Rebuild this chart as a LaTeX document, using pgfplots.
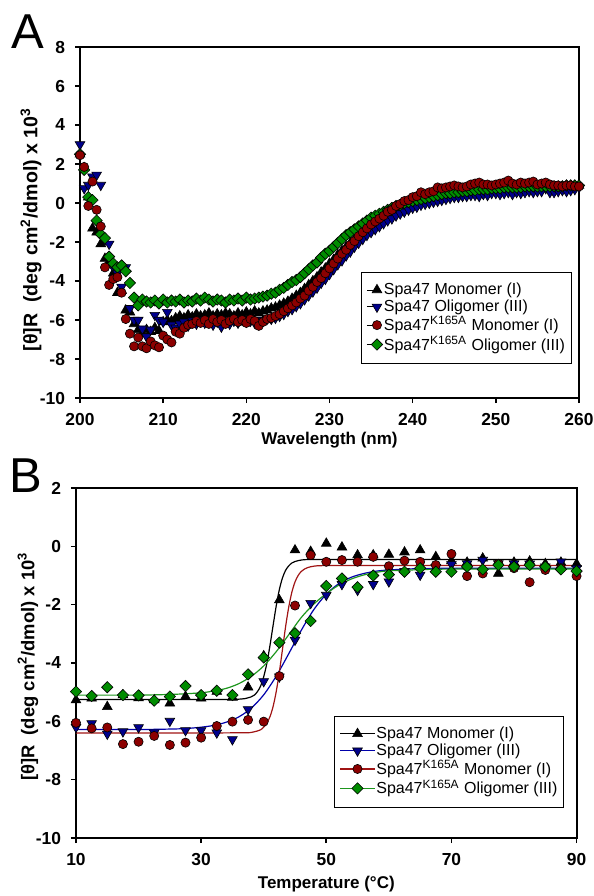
\documentclass[border=0pt]{standalone}
\usepackage{fontspec}
\setmainfont{Liberation Sans}
\usepackage{pgfplots}
\usepackage{pgfplotstable}
\pgfplotsset{compat=1.18}
\definecolor{mred}{RGB}{140,0,0}
\definecolor{mblue}{RGB}{0,0,140}
\definecolor{mgreen}{RGB}{0,140,0}
\definecolor{lred}{RGB}{160,20,20}
\definecolor{lblue}{RGB}{0,0,170}
\definecolor{lgreen}{RGB}{30,150,30}

\pgfplotstableread{
lam K B R G
200.0 2.50 3.00 2.45 2.50
200.5 1.80 0.75 1.85 1.70
201.0 0.30 0.92 -0.15 0.30
201.5 -1.30 1.35 1.10 0.15
202.0 -1.50 1.44 -0.35 -0.90
202.5 -2.10 0.92 -1.20 -1.60
203.0 -2.85 -1.90 -3.30 -1.80
203.5 -3.00 -2.10 -4.20 -2.75
204.0 -3.60 -3.30 -3.90 -3.10
204.5 -4.60 -3.60 -3.80 -3.30
205.0 -4.50 -4.30 -4.60 -3.20
205.5 -5.50 -3.30 -5.95 -3.50
206.0 -5.60 -5.40 -6.70 -4.10
206.5 -6.20 -6.00 -7.35 -4.85
207.0 -6.50 -6.00 -6.90 -5.25
207.5 -6.70 -6.45 -7.35 -4.95
208.0 -6.50 -6.85 -7.45 -5.05
208.5 -6.60 -6.50 -7.10 -5.10
209.0 -6.40 -5.75 -7.30 -5.00
209.5 -6.55 -6.00 -7.40 -5.15
210.0 -6.10 -6.10 -6.80 -4.95
210.5 -6.00 -5.60 -7.00 -5.10
211.0 -6.05 -6.25 -7.15 -5.00
211.5 -5.90 -6.40 -6.60 -5.05
212.0 -5.80 -6.20 -6.70 -4.95
212.5 -5.90 -6.10 -6.40 -5.10
213.0 -5.75 -6.30 -6.25 -5.00
213.5 -5.85 -6.05 -6.20 -5.05
214.0 -5.70 -6.20 -6.05 -4.90
214.5 -5.80 -6.00 -6.15 -5.00
215.0 -5.75 -6.15 -6.00 -4.85
215.5 -5.65 -6.05 -6.20 -4.95
216.0 -5.80 -6.25 -5.95 -5.05
216.5 -5.70 -6.10 -6.10 -4.95
217.0 -5.75 -6.35 -6.00 -5.00
217.5 -5.65 -6.10 -6.20 -5.10
218.0 -5.70 -6.20 -6.05 -4.95
218.5 -5.80 -6.05 -5.95 -5.00
219.0 -5.65 -6.15 -6.10 -4.90
219.5 -5.75 -6.00 -6.00 -5.00
220.0 -5.60 -6.10 -6.15 -4.85
220.5 -5.70 -6.05 -5.95 -4.95
221.0 -5.55 -6.15 -6.05 -4.90
221.5 -5.65 -6.00 -6.30 -4.85
222.0 -5.55 -6.05 -6.10 -4.80
222.5 -5.50 -5.95 -5.95 -4.75
223.0 -5.40 -5.95 -5.90 -4.65
223.5 -5.35 -5.90 -5.80 -4.60
224.0 -5.25 -5.80 -5.70 -4.45
224.5 -5.15 -5.70 -5.55 -4.35
225.0 -5.05 -5.55 -5.40 -4.20
225.5 -4.90 -5.45 -5.25 -4.05
226.0 -4.75 -5.30 -5.10 -3.95
226.5 -4.60 -5.15 -4.90 -3.80
227.0 -4.40 -4.95 -4.75 -3.60
227.5 -4.20 -4.75 -4.50 -3.40
228.0 -4.00 -4.55 -4.30 -3.20
228.5 -3.80 -4.35 -4.05 -3.05
229.0 -3.55 -4.10 -3.85 -2.80
229.5 -3.35 -3.90 -3.60 -2.60
230.0 -3.10 -3.65 -3.35 -2.45
230.5 -2.90 -3.40 -3.10 -2.25
231.0 -2.65 -3.15 -2.85 -2.05
231.5 -2.45 -2.95 -2.60 -1.85
232.0 -2.25 -2.70 -2.40 -1.65
232.5 -2.05 -2.50 -2.15 -1.50
233.0 -1.85 -2.25 -1.95 -1.35
233.5 -1.65 -2.05 -1.70 -1.20
234.0 -1.45 -1.85 -1.50 -1.05
234.5 -1.30 -1.65 -1.30 -0.90
235.0 -1.15 -1.50 -1.10 -0.75
235.5 -1.00 -1.35 -0.95 -0.65
236.0 -0.85 -1.20 -0.80 -0.55
236.5 -0.75 -1.05 -0.65 -0.45
237.0 -0.60 -0.90 -0.45 -0.35
237.5 -0.50 -0.80 -0.35 -0.25
238.0 -0.40 -0.65 -0.15 -0.15
238.5 -0.30 -0.55 -0.05 -0.10
239.0 -0.20 -0.45 0.10 0.00
239.5 -0.10 -0.35 0.15 0.05
240.0 0.00 -0.25 0.30 0.10
240.5 0.05 -0.20 0.35 0.15
241.0 0.15 -0.10 0.55 0.20
241.5 0.20 -0.05 0.45 0.25
242.0 0.25 0.00 0.55 0.30
242.5 0.30 0.05 0.60 0.35
243.0 0.35 0.10 0.80 0.40
243.5 0.40 0.15 0.75 0.45
244.0 0.45 0.20 0.80 0.50
244.5 0.45 0.25 0.85 0.50
245.0 0.50 0.30 0.90 0.55
245.5 0.55 0.30 0.85 0.55
246.0 0.55 0.35 0.80 0.60
246.5 0.60 0.35 0.85 0.60
247.0 0.60 0.40 0.95 0.65
247.5 0.65 0.40 1.00 0.65
248.0 0.65 0.35 1.05 0.70
248.5 0.65 0.45 0.95 0.70
249.0 0.70 0.40 0.95 0.70
249.5 0.70 0.50 0.90 0.75
250.0 0.70 0.50 0.95 0.75
250.5 0.75 0.45 1.00 0.75
251.0 0.75 0.50 1.05 0.80
251.5 0.75 0.55 1.15 0.80
252.0 0.80 0.45 1.00 0.80
252.5 0.75 0.55 0.95 0.80
253.0 0.80 0.50 1.05 0.80
253.5 0.80 0.55 1.00 0.85
254.0 0.80 0.60 1.05 0.85
254.5 0.85 0.55 1.10 0.85
255.0 0.80 0.60 0.95 0.85
255.5 0.85 0.60 1.00 0.85
256.0 0.85 0.75 1.05 0.85
256.5 0.85 0.55 0.95 0.85
257.0 0.85 0.55 0.90 0.85
257.5 0.85 0.60 0.90 0.85
258.0 0.85 0.65 0.85 0.85
258.5 0.90 0.60 0.90 0.90
259.0 0.90 0.65 0.90 0.90
259.5 0.90 0.70 0.85 0.90
260.0 0.90 0.80 0.85 0.90
}\cdtable

\pgfplotstableread{
T K B R G
10 -5.27 -6.20 -6.05 -4.98
12.5 -5.21 -6.07 -6.24 -5.13
15 -5.50 -6.43 -6.21 -4.83
17.5 -5.10 -6.35 -6.78 -5.10
20 -5.20 -6.21 -6.70 -5.11
22.5 -5.27 -6.39 -6.50 -5.29
25 -5.38 -5.99 -6.81 -5.15
27.5 -5.15 -6.31 -6.73 -4.79
30 -5.21 -6.31 -6.56 -5.10
32.5 -4.98 -6.39 -6.16 -4.95
35 -5.18 -6.62 -6.01 -5.10
37.5 -4.83 -5.59 -5.95 -4.39
40 -3.76 -4.63 -6.01 -3.81
42.5 -1.84 -4.47 -4.45 -3.30
45 -0.13 -3.21 -2.03 -2.98
47.5 -0.18 -1.95 -0.30 -2.56
50 0.10 -1.67 -0.53 -1.36
52.5 -0.03 -1.30 -0.47 -1.10
55 -0.30 -1.50 -0.53 -1.40
57.5 -0.30 -1.30 -0.36 -1.00
60 -0.28 -1.21 -0.68 -0.97
62.5 -0.20 -0.85 -0.49 -0.87
65 -0.13 -0.98 -0.53 -0.75
67.5 -0.36 -0.72 -0.64 -0.87
70 -0.50 -0.62 -0.26 -0.87
72.5 -0.55 -0.59 -1.02 -0.70
75 -0.41 -0.47 -0.93 -0.79
77.5 -0.93 -0.59 -0.60 -0.64
80 -0.55 -0.59 -0.75 -0.70
82.5 -0.51 -0.60 -1.23 -0.64
85 -0.60 -0.70 -0.81 -0.70
87.5 -0.55 -0.53 -0.75 -0.79
90 -0.60 -0.75 -1.02 -0.85
}\meltpts

\tikzset{
  mK/.style={mark=triangle*, mark size=2.8pt, mark options={fill=black, draw=black, line width=0.3pt}},
  mB/.style={mark=triangle*, mark size=2.8pt, mark options={fill=mblue, draw=black, line width=0.3pt, rotate=180}},
  mR/.style={mark=*, mark size=2.3pt, mark options={fill=mred, draw=black, line width=0.3pt}},
  mG/.style={mark=square*, mark size=2.0pt, mark options={fill=mgreen, draw=black, line width=0.3pt, rotate=45}},
}
\pgfplotsset{
  panel/.style={
    scale only axis,
    axis line style={line width=1pt},
    tick align=outside, xtick pos=bottom, ytick pos=left,
    major tick length=2.5pt,
    tick style={line width=0.8pt, black},
    ticklabel style={font=\bfseries\fontsize{8.7}{10}\selectfont},
    xticklabel style={yshift=-1.8pt},
    yticklabel style={xshift=-1.5pt},
    /pgf/number format/assume math mode=true,
    label style={font=\bfseries\fontsize{8.5}{10}\selectfont},
    ylabel={[θ]R\ \ (deg cm\textsuperscript{2}/dmol) x 10\textsuperscript{3}},
    legend cell align=left,
    legend style={font=\fontsize{8}{9.3}\selectfont, draw=black, thin,
      inner xsep=2.5pt, inner ysep=4.5pt, row sep=0pt, nodes={inner sep=0.6pt}},
  }
}

\begin{document}
\begin{tikzpicture}
\useasboundingbox (0,0) rectangle (297pt,-448pt);
\node[font=\fontsize{24.5}{24.5}\selectfont, inner sep=0pt] at (14pt,-16pt) {A};
\node[font=\fontsize{24.5}{24.5}\selectfont, inner sep=0pt] at (13pt,-238pt) {B};

\begin{axis}[panel,
  at={(40pt,-199pt)}, anchor=south west,
  width=249.5pt, height=175.5pt,
  xmin=200, xmax=260, ymin=-10, ymax=8,
  xtick={200,210,...,260}, ytick={-10,-8,...,8},
  xlabel={Wavelength (nm)},
  xlabel style={at={(axis description cs:0.5,-0.12)}, anchor=center},
  ylabel style={at={(axis description cs:-0.098,0.48)}, anchor=center, font=\bfseries\fontsize{9.8}{11}\selectfont},
  legend style={at={(0.985,0.359)}, anchor=north east},
  legend image code/.code={\path (-5pt,0pt) -- (2pt,0pt); \draw[#1] plot coordinates {(0cm,0cm)};},
]
\addplot[only marks, mK, forget plot] table[x=lam, y=K] {\cdtable};
\addplot[only marks, mB, forget plot] table[x=lam, y=B] {\cdtable};
\addplot[only marks, mG, forget plot] table[x=lam, y=G] {\cdtable};
\addplot[only marks, mR, forget plot] table[x=lam, y=R] {\cdtable};
\addlegendimage{only marks, mK}
\addlegendentry{Spa47 Monomer (I)}
\addlegendimage{only marks, mB}
\addlegendentry{Spa47 Oligomer (III)}
\addlegendimage{only marks, mR}
\addlegendentry{Spa47\textsuperscript{K165A} Monomer (I)}
\addlegendimage{only marks, mG}
\addlegendentry{Spa47\textsuperscript{K165A} Oligomer (III)}
\end{axis}

\begin{axis}[panel,
  at={(38pt,-419pt)}, anchor=south west,
  width=250.3pt, height=175pt,
  xmin=10, xmax=90, ymin=-10, ymax=2,
  xtick={10,30,50,70,90}, ytick={-10,-8,...,2},
  xlabel={Temperature (°C)},
  xlabel style={at={(axis description cs:0.5,-0.131)}, anchor=center},
  ylabel style={at={(axis description cs:-0.096,0.49)}, anchor=center, font=\bfseries\fontsize{9.2}{11}\selectfont},
  legend style={at={(0.975,0.349)}, anchor=north east},
]
% fitted curves
\addplot[black, line width=0.6pt, smooth, forget plot] coordinates {
(10,-5.25) (20,-5.25) (30,-5.25) (35,-5.25) (36,-5.24) (37,-5.22) (38,-5.16) (38.5,-5.10) (39,-4.98) (39.5,-4.79) (40,-4.47) (40.5,-4.01) (41,-3.40) (41.5,-2.71) (42,-2.04) (42.5,-1.48) (43,-1.08) (43.5,-0.82) (44,-0.67) (44.5,-0.57) (45,-0.52) (45.5,-0.49) (46,-0.47) (48,-0.45) (60,-0.45) (90,-0.45)};
\addplot[lblue, line width=0.6pt, smooth, forget plot] coordinates {
(10,-6.28) (20,-6.28) (26,-6.26) (28,-6.24) (30,-6.20) (32,-6.14) (34,-6.03) (36,-5.85) (38,-5.55) (40,-5.09) (42,-4.45) (44,-3.68) (46,-2.88) (48,-2.17) (50,-1.64) (52,-1.28) (54,-1.06) (56,-0.93) (58,-0.85) (60,-0.81) (64,-0.77) (70,-0.75) (90,-0.75)};
\addplot[lred, line width=0.6pt, smooth, forget plot] coordinates {
(10,-6.40) (20,-6.40) (30,-6.40) (37,-6.39) (38,-6.38) (39,-6.33) (39.5,-6.29) (40,-6.20) (40.5,-6.06) (41,-5.84) (41.5,-5.49) (42,-4.98) (42.5,-4.31) (43,-3.53) (43.5,-2.75) (44,-2.08) (44.5,-1.57) (45,-1.22) (45.5,-1.00) (46,-0.86) (46.5,-0.78) (47,-0.73) (48,-0.68) (50,-0.66) (60,-0.66) (90,-0.66)};
\addplot[lgreen, line width=0.6pt, smooth, forget plot] coordinates {
(10,-5.10) (20,-5.10) (26,-5.07) (30,-5.02) (32,-4.96) (34,-4.87) (36,-4.71) (38,-4.46) (40,-4.10) (42,-3.61) (44,-3.03) (46,-2.44) (48,-1.98) (50,-1.62) (52,-1.33) (54,-1.12) (56,-0.98) (58,-0.89) (60,-0.84) (65,-0.80) (70,-0.78) (90,-0.78)};
% data points
\addplot[only marks, mK, forget plot] table[x=T, y=K] {\meltpts};
\addplot[only marks, mB, forget plot] table[x=T, y=B] {\meltpts};
\addplot[only marks, mR, forget plot] table[x=T, y=R] {\meltpts};
\addplot[only marks, mG, forget plot] table[x=T, y=G] {\meltpts};
\addlegendimage{black, line width=0.6pt, mK}
\addlegendentry{Spa47 Monomer (I)}
\addlegendimage{lblue, line width=0.6pt, mB}
\addlegendentry{Spa47 Oligomer (III)}
\addlegendimage{lred, line width=0.6pt, mR}
\addlegendentry{Spa47\textsuperscript{K165A} Monomer (I)}
\addlegendimage{lgreen, line width=0.6pt, mG}
\addlegendentry{Spa47\textsuperscript{K165A} Oligomer (III)}
\end{axis}
\end{tikzpicture}
\end{document}
